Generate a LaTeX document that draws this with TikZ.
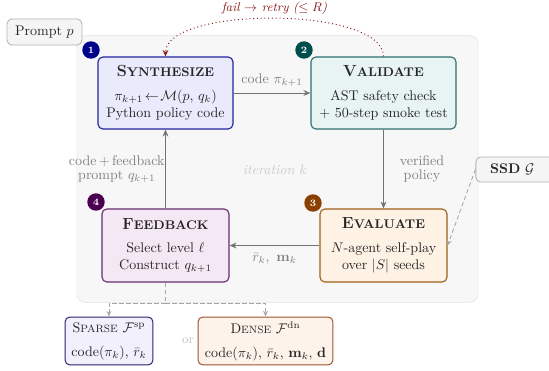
\documentclass[tikz,border=0pt]{standalone}
\usepackage{amsmath,amssymb}
\usetikzlibrary{arrows.meta,calc}
\definecolor{synfill}{HTML}{E9EAFB}
\definecolor{synline}{HTML}{2424A0}
\definecolor{synbadge}{HTML}{00008B}
\definecolor{valfill}{HTML}{E8F3F3}
\definecolor{valline}{HTML}{2F6F6F}
\definecolor{valbadge}{HTML}{004D4D}
\definecolor{evafill}{HTML}{FDF2E4}
\definecolor{evaline}{HTML}{A0601A}
\definecolor{evabadge}{HTML}{8B4000}
\definecolor{fdbfill}{HTML}{F4E8F4}
\definecolor{fdbline}{HTML}{6A2C70}
\definecolor{fdbbadge}{HTML}{4B0050}
\definecolor{spfill}{HTML}{F2F0FC}
\definecolor{spline}{HTML}{2A1E70}
\definecolor{dnfill}{HTML}{FDF3EA}
\definecolor{dnline}{HTML}{A0522D}
\definecolor{retrycol}{HTML}{8B1A1A}
\newcommand\ttl[2]{{\bfseries\fontsize{11.5}{13}\selectfont #1\fontsize{9}{13}\selectfont #2}}
\newcommand\smc[2]{{\fontsize{10}{12}\selectfont #1\fontsize{7.6}{12}\selectfont #2}}
\begin{document}
\begin{tikzpicture}[x=0.715pt,y=-0.715pt,
  box/.style={draw, rounded corners=3.5pt, line width=0.8pt, align=center, inner sep=0pt, text=black!85},
  graybox/.style={box, fill=black!4, draw=black!30, line width=0.6pt},
  badge/.style={circle, fill=#1, text=white, font=\bfseries\scriptsize, inner sep=0pt, minimum size=12.5pt},
  lbl/.style={text=black!50, align=center},
  arr/.style={-{Stealth[length=5pt,width=4.2pt]}, draw=black!55, line width=0.7pt},
  dsh/.style={-{Stealth[length=4pt,width=3.5pt]}, draw=black!35, line width=0.6pt, dash pattern=on 3pt off 2pt},
  retry/.style={-{Stealth[length=4.5pt,width=4pt]}, draw=retrycol, line width=0.7pt, dotted}]
\useasboundingbox (0,0) rectangle (549,371);
% background panel
\node[draw=black!8, fill=black!3, rounded corners=6pt, line width=0.6pt, minimum width=286.7pt, minimum height=190.9pt, inner sep=0pt] (bg) at (277.5,169) {};
\node[text=black!20, font=\itshape] (it) at (275,170) {iteration $k$};
% main boxes
\node[box, fill=synfill, draw=synline, minimum width=96.5pt, minimum height=51.5pt] (syn) at (165.5,93)
  {\ttl{S}{YNTHESIZE}\\[5pt] $\pi_{k+1}\!\leftarrow\!\mathcal{M}(p,\,q_k)$\\ Python policy code};
\node[box, fill=valfill, draw=valline, minimum width=103.7pt, minimum height=51.5pt] (val) at (383.5,93)
  {\ttl{V}{ALIDATE}\\[5pt] AST safety check\\ $+$ 50-step smoke test};
\node[box, fill=evafill, draw=evaline, minimum width=90.8pt, minimum height=52.2pt] (eva) at (383.5,245.5)
  {\ttl{E}{VALUATE}\\[5pt] $N$-agent self-play\\ over $|S|$ seeds};
\node[box, fill=fdbfill, draw=fdbline, minimum width=90.8pt, minimum height=52.2pt] (fdb) at (165.5,245.5)
  {\ttl{F}{EEDBACK}\\[5pt] Select level $\ell$\\ Construct $q_{k+1}$};
% side boxes
\node[graybox, minimum width=53.6pt, minimum height=18.6pt] (pr) at (44.5,32) {Prompt $p$};
\node[graybox, minimum width=56pt, minimum height=17.9pt] (ssd) at (515,169.5) {\hspace*{-4pt}\textbf{SSD} $\mathcal{G}$};
\node[box, fill=spfill, draw=spline, line width=0.7pt, minimum width=62.9pt, minimum height=34.3pt] (sp) at (109,341)
  {\smc{S}{PARSE} $\mathcal{F}^{\mathrm{sp}}$\\[5pt] code$(\pi_k)$,\ $\bar r_k$};
\node[box, fill=dnfill, draw=dnline, line width=0.7pt, minimum width=96.5pt, minimum height=34.3pt] (dn) at (265.5,341)
  {\smc{D}{ENSE} $\mathcal{F}^{\mathrm{dn}}$\\[5pt] code$(\pi_k)$,\ $\bar r_k$,\ $\mathbf{m}_k$,\ $\mathbf{d}$};
\node[text=black!25, font=\small] (or) at (188,341) {or};
% badges
\node[badge=synbadge] (b1) at (91,50) {1};
\node[badge=valbadge] (b2) at (304,50) {2};
\node[badge=evabadge] (b3) at (313,203) {3};
\node[badge=fdbbadge] (b4) at (96,202) {4};
% main flow
\draw[arr] (syn) -- (val) node[midway, above=1pt, lbl] {code $\pi_{k+1}$};
\draw[arr] (val) -- (eva) node[midway, right=8pt, lbl] {verified\\[-2pt]policy};
\draw[arr] (eva) -- (fdb) node[midway, below=2pt, lbl] {$\bar r_k,\ \mathbf{m}_k$};
\draw[arr] (fdb) -- (syn) node[midway, left=-3pt, lbl] {code$\,+\,$feedback\\[-2pt]prompt $q_{k+1}$};
% retry loop
\draw[retry] (val.north) .. controls (383.5,6) and (165.5,6) .. (syn.north);
\node[text=retrycol, font=\small\itshape] (rl) at (274.5,8) {fail $\to$ retry ($\leq R$)};
% SSD input
\draw[dsh] (ssd.west) -- (eva.east);
% feedback variants
\coordinate (j) at (165.5,303);
\draw[draw=black!35, line width=0.6pt, dash pattern=on 3pt off 2pt] (fdb.south) -- (j);
\draw[dsh] (j) -| (sp.north);
\draw[dsh] (j) -| (dn.north);
\end{tikzpicture}
\end{document}
